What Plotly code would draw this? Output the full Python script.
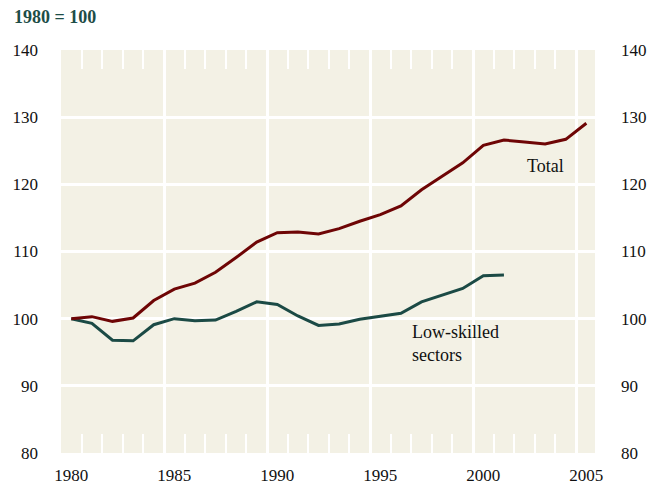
import plotly.graph_objects as go

ANOS = list(range(1980, 2006))

TOTAL = [100.0, 100.3, 99.6, 100.1, 102.7, 104.4, 105.3, 106.9, 109.1, 111.4,
         112.8, 112.9, 112.6, 113.4, 114.5, 115.5, 116.8, 119.2, 121.2, 123.2,
         125.8, 126.6, 126.3, 126.0, 126.7, 129.1]

ANOS_BAIXA = list(range(1980, 2002))
BAIXA_QUALIF = [100.0, 99.3, 96.8, 96.7, 99.1, 100.0, 99.7, 99.8, 101.1, 102.5,
                102.1, 100.4, 99.0, 99.2, 99.9, 100.3, 100.8, 102.5, 103.5, 104.5,
                106.4, 106.5]

ROTULOS_X = [1980, 1985, 1990, 1995, 2000, 2005]
GRADE_X = [1984.5, 1989.5, 1994.5, 1999.5, 2004.5]
MENORES_X = [a + 0.5 for a in range(1980, 2005)]
TICKS_Y = [80, 90, 100, 110, 120, 130, 140]

CORES = {
    "total": "#6e0505",
    "baixa": "#1b4a45",
    "titulo": "#1d4d47",
    "fundo": "#f3f1e5",
    "texto": "#111111",
}

FONTE = "Liberation Serif, Times New Roman, serif"
FAIXA_X = [1979.5, 2005.42]
FAIXA_Y = [80, 140]

# a página tem 8 px de margem no body, por isso a figura é menor
TICKS_MENORES = dict(
    tickmode="array",
    tickvals=MENORES_X,
    ticks="inside",
    ticklen=19,
    tickwidth=2,
    tickcolor="white",
    showgrid=False,
)

fig = go.Figure()

fig.add_trace(go.Scatter(
    x=ANOS_BAIXA, y=BAIXA_QUALIF, mode="lines",
    line=dict(color=CORES["baixa"], width=3),
    xaxis="x", yaxis="y", showlegend=False
))

fig.add_trace(go.Scatter(
    x=ANOS, y=TOTAL, mode="lines",
    line=dict(color=CORES["total"], width=3),
    xaxis="x2", yaxis="y2", showlegend=False
))

fig.update_layout(
    width=651,
    height=479,
    paper_bgcolor="white",
    plot_bgcolor=CORES["fundo"],
    margin=dict(l=53, r=64, t=42, b=34),
    font=dict(family=FONTE, size=17, color=CORES["texto"]),
    xaxis=dict(
        range=FAIXA_X,
        tickmode="array",
        tickvals=ROTULOS_X,
        ticktext=[str(a) for a in ROTULOS_X],
        ticks="",
        ticklabelstandoff=10,
        showgrid=False,
        zeroline=False,
        showline=False,
        automargin=False,
        minor=TICKS_MENORES,
    ),
    xaxis2=dict(
        range=FAIXA_X,
        overlaying="x",
        side="top",
        tickmode="array",
        tickvals=GRADE_X,
        showticklabels=False,
        ticks="",
        showgrid=True,
        gridcolor="white",
        gridwidth=3,
        zeroline=False,
        showline=False,
        automargin=False,
        minor=TICKS_MENORES,
    ),
    yaxis=dict(
        range=FAIXA_Y,
        tickmode="array",
        tickvals=TICKS_Y,
        ticks="",
        ticklabelstandoff=22,
        showgrid=True,
        gridcolor="white",
        gridwidth=3,
        zeroline=False,
        showline=False,
        automargin=False,
    ),
    yaxis2=dict(
        range=FAIXA_Y,
        overlaying="y",
        side="right",
        tickmode="array",
        tickvals=TICKS_Y,
        ticks="",
        ticklabelstandoff=25,
        showgrid=False,
        zeroline=False,
        showline=False,
        automargin=False,
    ),
    annotations=[
        dict(
            text="<b>1980 = 100</b>", xref="paper", yref="paper",
            x=-0.092, y=1.082, xanchor="left", yanchor="middle",
            showarrow=False, font=dict(size=18, color=CORES["titulo"], family=FONTE),
        ),
        dict(
            text="Total", xref="x", yref="y",
            x=2002.0, y=122.7, xanchor="left", yanchor="middle",
            showarrow=False, font=dict(size=18, family=FONTE),
        ),
        dict(
            text="Low-skilled<br>sectors", xref="x", yref="y",
            x=1996.43, y=96.3, xanchor="left", yanchor="middle", align="left",
            showarrow=False, font=dict(size=18, family=FONTE),
        ),
    ],
)

fig.write_html("out.html")
